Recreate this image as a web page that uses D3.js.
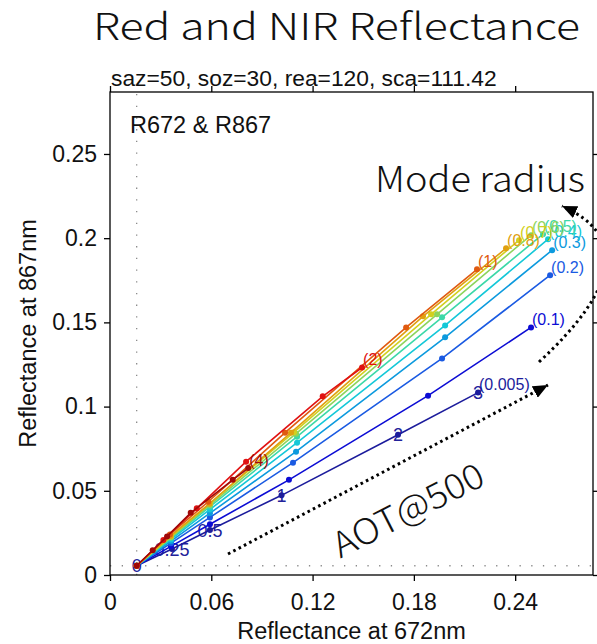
<!DOCTYPE html>
<html><head><meta charset="utf-8">
<script src="https://cdn.jsdelivr.net/npm/d3@7"></script>
<style>body{margin:0;background:#fff}</style>
</head><body>
<svg id="c" width="597" height="644"></svg>
<script>
// ---- data ----
const radii = ["0.005","0.1","0.2","0.3","0.4","0.5","0.6","0.7","0.8","1","2","4"];
const aotLevels = ["0","0.25","0.5","1","2","3"];
const surfRed = 0.0158;
const surfNir = 0.0055;
// reflectance at 672 nm, one row per mode radius, columns = AOT levels
const red672 = [
  [0.0158,0.0367,0.0592,0.1016,0.1706,0.2180],
  [0.0158,0.0361,0.0592,0.1060,0.1884,0.2494],
  [0.0158,0.0361,0.0592,0.1084,0.1967,0.2607],
  [0.0158,0.0361,0.0592,0.1102,0.1985,0.2619],
  [0.0158,0.0361,0.0592,0.1108,0.1985,0.2595],
  [0.0158,0.0361,0.0592,0.1108,0.1967,0.2565],
  [0.0158,0.0361,0.0592,0.1102,0.1937,0.2494],
  [0.0158,0.0361,0.0592,0.1090,0.1902,0.2423],
  [0.0158,0.0358,0.0589,0.1072,0.1854,0.2346],
  [0.0158,0.0355,0.0582,0.1037,0.1754,0.2174],
  [0.0158,0.0316,0.0514,0.0806,0.1260,0.1493],
  [0.0158,0.0253,0.0338,0.0478,0.0727,0.0819]
];
// reflectance at 867 nm
const nir867 = [
  [0.0055,0.0154,0.0267,0.0473,0.0833,0.1083],
  [0.0055,0.0170,0.0301,0.0565,0.1065,0.1470],
  [0.0055,0.0189,0.0342,0.0667,0.1286,0.1780],
  [0.0055,0.0201,0.0367,0.0732,0.1411,0.1929],
  [0.0055,0.0211,0.0389,0.0786,0.1482,0.1994],
  [0.0055,0.0219,0.0406,0.0821,0.1530,0.2024],
  [0.0055,0.0224,0.0416,0.0839,0.1548,0.2018],
  [0.0055,0.0229,0.0426,0.0848,0.1548,0.1988],
  [0.0055,0.0232,0.0423,0.0845,0.1536,0.1940],
  [0.0055,0.0241,0.0435,0.0845,0.1470,0.1815],
  [0.0055,0.0208,0.0396,0.0673,0.1061,0.1232],
  [0.0055,0.0147,0.0229,0.0369,0.0565,0.0635]
];
const seriesColors = ["#1c1c9c","#0c0cd4","#1a5ae2","#0c9ade","#14c8d8","#3cd8a8",
                      "#8cd45c","#d2d020","#e0a010","#e05a10","#e01212","#a00808"];
const xTicks = [0,0.06,0.12,0.18,0.24];
const xTickLabels = ["0","0.06","0.12","0.18","0.24"];
const yTicks = [0,0.05,0.1,0.15,0.2,0.25];
const yTickLabels = ["0","0.05","0.1","0.15","0.2","0.25"];

// ---- drawing ----
(function(){
const svg = d3.select("#c");
const L = 110, R = 593, T = 92, B = 575;
const x = d3.scaleLinear().domain([0, 0.2861]).range([L, R]);
const y = d3.scaleLinear().domain([0, 0.2868]).range([B, T]);
const ARIAL = "'Liberation Sans', Arial, sans-serif";
const JP = "'Noto Sans CJK JP', 'Noto Sans', sans-serif";

const defs = svg.append("defs");
defs.append("marker").attr("id","ah").attr("viewBox","0 0 15 13")
  .attr("refX",15).attr("refY",6.5).attr("markerWidth",15).attr("markerHeight",13)
  .attr("markerUnits","userSpaceOnUse").attr("orient","auto")
  .append("path").attr("d","M0,0 L15,6.5 L0,13 Z").attr("fill","#000");

// surface reflectance reference lines
svg.append("line").attr("x1",x(surfRed)).attr("x2",x(surfRed)).attr("y1",y(0)).attr("y2",T)
  .attr("stroke","#8a8a8a").attr("stroke-width",1.3).attr("stroke-dasharray","1.3,10.4");
svg.append("line").attr("x1",L).attr("x2",R).attr("y1",y(surfNir)).attr("y2",y(surfNir))
  .attr("stroke","#8a8a8a").attr("stroke-width",1.3).attr("stroke-dasharray","1.3,10.4");

// AOT labels along the smallest-radius curve (drawn under the lines)
svg.append("g").selectAll("text").data(aotLevels).join("text")
  .attr("x",(d,i)=>x(red672[0][i])).attr("y",(d,i)=>y(nir867[0][i]))
  .attr("dy","0.36em").attr("text-anchor","middle")
  .attr("font-family",ARIAL).attr("font-size",18).attr("fill","#22229a")
  .text(d=>d);

// series lines + markers
const lineGen = d3.line().x(d=>x(d[0])).y(d=>y(d[1]));
radii.forEach((r,k)=>{
  const pts = red672[k].map((v,i)=>[v, nir867[k][i]]);
  const g = svg.append("g");
  g.append("path").attr("d",lineGen(pts)).attr("fill","none")
    .attr("stroke",seriesColors[k]).attr("stroke-width",1.6);
  g.selectAll("circle").data(pts).join("circle")
    .attr("cx",d=>x(d[0])).attr("cy",d=>y(d[1])).attr("r",3)
    .attr("fill",seriesColors[k]);
});

// radius labels at the end of each curve
svg.append("g").selectAll("text").data(radii).join("text")
  .attr("x",(d,k)=>x(red672[k][5])+1)
  .attr("y",(d,k)=>y(nir867[k][5])-8)
  .attr("dy","0.35em")
  .attr("font-family",ARIAL).attr("font-size",16)
  .attr("fill",(d,k)=>seriesColors[k])
  .text(d=>"("+d+")");

// axes
const ax = svg.append("g").attr("font-family",ARIAL);
const axB = ax.append("g").attr("transform",`translate(0,${B})`)
  .call(d3.axisBottom(x).tickValues(xTicks).tickFormat((d,i)=>xTickLabels[i]).tickSizeInner(6).tickSizeOuter(0).tickPadding(13));
const axT = ax.append("g").attr("transform",`translate(0,${T})`)
  .call(d3.axisTop(x).tickValues(xTicks).tickFormat("").tickSizeInner(6).tickSizeOuter(0));
const axL = ax.append("g").attr("transform",`translate(${L},0)`)
  .call(d3.axisLeft(y).tickValues(yTicks).tickFormat((d,i)=>yTickLabels[i]).tickSizeInner(6).tickSizeOuter(0).tickPadding(7));
const axR = ax.append("g").attr("transform",`translate(${R},0)`)
  .call(d3.axisRight(y).tickValues(yTicks).tickFormat("").tickSizeInner(5).tickSizeOuter(0));
[axB,axT,axL,axR].forEach(g=>{
  g.select(".domain").remove();
  g.selectAll(".tick line").attr("stroke","#000").attr("stroke-width",1.3);
  g.selectAll(".tick text").attr("font-family",ARIAL).attr("font-size",23).attr("fill","#111");
});
svg.append("rect").attr("x",L).attr("y",T).attr("width",R-L).attr("height",B-T)
  .attr("fill","none").attr("stroke","#000").attr("stroke-width",1.3);

// axis labels
svg.append("text").attr("x",(L+R)/2).attr("y",639).attr("text-anchor","middle")
  .attr("font-family",ARIAL).attr("font-size",23.5).attr("fill","#111").text("Reflectance at 672nm");
svg.append("text").attr("transform",`translate(36,${(T+B)/2}) rotate(-90)`).attr("text-anchor","middle")
  .attr("font-family",ARIAL).attr("font-size",23.5).attr("fill","#111").text("Reflectance at 867nm");

// subtitle and inner label
svg.append("text").attr("x",111).attr("y",86)
  .attr("font-family",ARIAL).attr("font-size",22.8).attr("fill","#111")
  .text("saz=50, soz=30, rea=120, sca=111.42");
svg.append("text").attr("x",130).attr("y",133)
  .attr("font-family",ARIAL).attr("font-size",23.5).attr("fill","#111").text("R672 & R867");

// title
svg.append("text").attr("x",93).attr("y",40)
  .attr("font-family",JP).attr("font-weight",300).attr("font-size",37).attr("fill","#111")
  .attr("textLength",487).attr("lengthAdjust","spacingAndGlyphs")
  .text("Red and NIR Reflectance");

// annotations
svg.append("text").attr("x",375).attr("y",192)
  .attr("font-family",JP).attr("font-weight",300).attr("font-size",36).attr("fill","#111")
  .attr("textLength",210).attr("lengthAdjust","spacingAndGlyphs")
  .text("Mode radius");
svg.append("text").attr("transform","translate(408,510) rotate(-27)")
  .attr("text-anchor","middle").attr("dy","0.36em")
  .attr("font-family",JP).attr("font-weight",300).attr("font-size",35).attr("fill","#111")
  .attr("textLength",165).attr("lengthAdjust","spacingAndGlyphs")
  .text("AOT@500");

// dotted arrows
svg.append("path").attr("d","M228,554 L548,385").attr("fill","none")
  .attr("stroke","#000").attr("stroke-width",3).attr("stroke-dasharray","2.6,3.4")
  .attr("marker-end","url(#ah)");
svg.append("path").attr("d","M539,362 Q660,250 562,206").attr("fill","none")
  .attr("stroke","#000").attr("stroke-width",3).attr("stroke-dasharray","2.6,3.4")
  .attr("marker-end","url(#ah)");
})();
</script>
</body></html>
